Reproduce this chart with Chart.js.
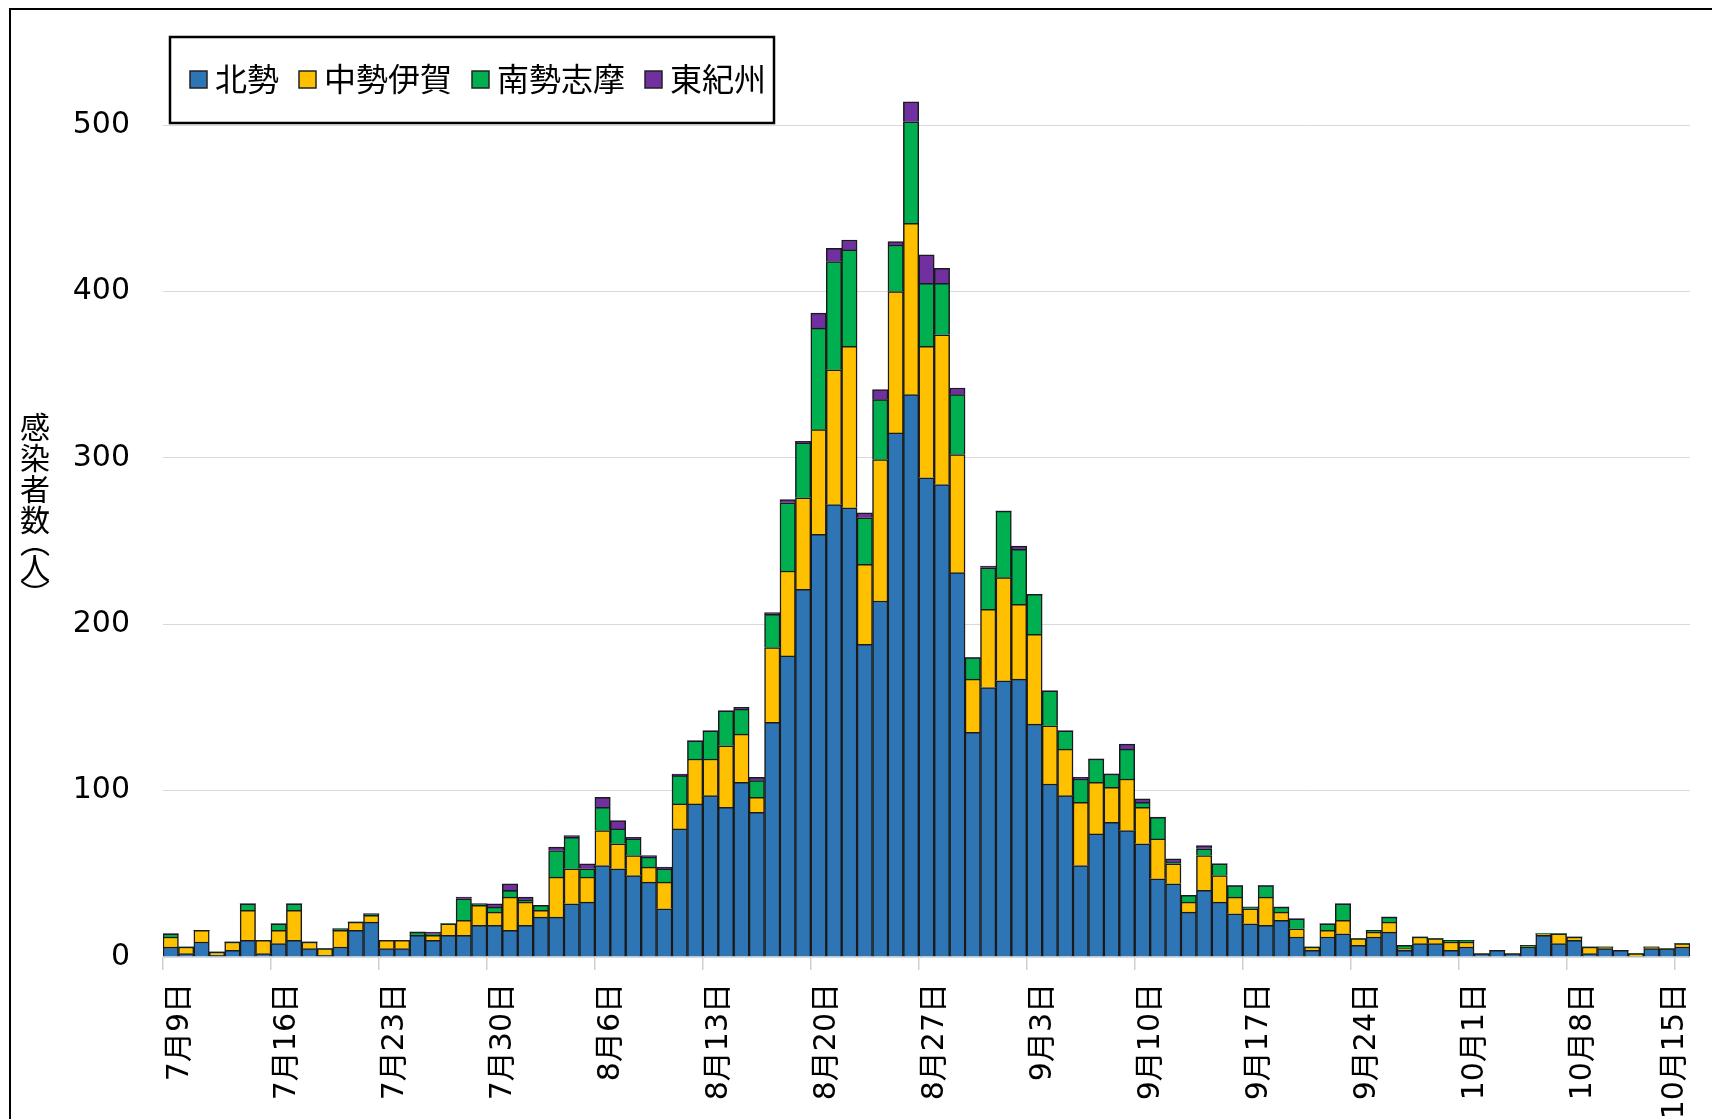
<!DOCTYPE html>
<html>
<head>
<meta charset="utf-8">
<script src="https://cdn.jsdelivr.net/npm/chart.js@4.4.0/dist/chart.umd.min.js"></script>
<style>
  html, body { margin: 0; padding: 0; background: #fff; }
</style>
</head>
<body>
<canvas id="myChart" width="1712" height="1119"></canvas>
<script>
// daily cases from 7/9 to 10/15
const startMonth = 7, startDay = 9, dayCount = 99;
const tickLabels = ['7月9日', '7月16日', '7月23日', '7月30日', '8月6日', '8月13日', '8月20日', '8月27日',
  '9月3日', '9月10日', '9月17日', '9月24日', '10月1日', '10月8日', '10月15日'];

const hokusei = [6, 2, 9, 1, 4, 10, 2, 8, 10, 5, 1, 6, 16, 21, 5, 5, 13, 10, 13, 13,
  19, 19, 16, 19, 24, 24, 32, 33, 55, 53, 49, 45, 29, 77, 92, 97, 90, 105, 87, 141,
  181, 221, 254, 272, 270, 188, 214, 315, 338, 288, 284, 231, 135, 162, 166, 167, 140, 104, 97, 55,
  74, 81, 76, 68, 47, 44, 27, 40, 33, 26, 20, 19, 22, 12, 4, 12, 14, 7, 12, 15,
  4, 8, 8, 4, 6, 2, 4, 2, 6, 13, 8, 10, 2, 5, 4, 0, 5, 5, 6];
const chuseiIga = [6, 4, 7, 2, 5, 18, 8, 8, 18, 4, 4, 10, 5, 4, 5, 5, 0, 3, 7, 9,
  12, 8, 20, 14, 4, 24, 21, 15, 21, 15, 12, 9, 16, 15, 27, 22, 37, 29, 9, 45,
  51, 55, 63, 81, 97, 48, 85, 85, 103, 79, 90, 71, 32, 47, 62, 45, 54, 35, 28, 38,
  31, 21, 31, 22, 24, 12, 6, 21, 16, 10, 9, 17, 5, 5, 2, 4, 8, 4, 3, 6,
  1, 4, 3, 5, 3, 0, 0, 0, 0, 1, 6, 2, 4, 1, 0, 2, 1, 0, 2];
const nanseiShima = [2, 0, 0, 0, 0, 4, 0, 4, 4, 0, 0, 1, 0, 1, 0, 0, 2, 1, 0, 13,
  1, 3, 4, 1, 3, 16, 19, 5, 14, 9, 10, 6, 8, 17, 11, 17, 21, 15, 10, 20,
  41, 33, 61, 65, 58, 28, 36, 28, 61, 38, 31, 36, 13, 25, 40, 33, 24, 21, 11, 14,
  14, 8, 18, 3, 13, 1, 4, 4, 7, 7, 1, 7, 3, 6, 0, 4, 10, 0, 1, 3,
  2, 0, 0, 1, 1, 0, 0, 0, 1, 0, 0, 0, 0, 0, 0, 0, 0, 0, 0];
const higashiKishu = [0, 0, 0, 0, 0, 0, 0, 0, 0, 0, 0, 0, 0, 0, 0, 0, 0, 1, 0, 1,
  0, 2, 4, 2, 0, 2, 1, 3, 6, 5, 1, 1, 1, 1, 0, 0, 0, 1, 2, 1,
  2, 1, 9, 8, 6, 3, 6, 2, 12, 17, 9, 4, 0, 1, 0, 2, 0, 0, 0, 1,
  0, 0, 3, 2, 0, 2, 0, 2, 0, 0, 0, 0, 0, 0, 0, 0, 0, 0, 0, 0,
  0, 0, 0, 0, 0, 0, 0, 0, 0, 0, 0, 0, 0, 0, 0, 0, 0, 0, 0];

const days = [];
for (let i = 0; i < dayCount; i++) {
  const d = new Date(2021, startMonth - 1, startDay + i);
  days.push((d.getMonth() + 1) + '月' + d.getDate() + '日');
}

const jpFont = '"Noto Sans CJK JP"';
const numFont = '"DejaVu Sans", "Noto Sans CJK JP"';

function series(label, data, color) {
  return {
    label: label,
    data: data,
    backgroundColor: color,
    borderColor: '#1a1a1a',
    borderWidth: c => (c.raw ? 1.5 : 0),
    barPercentage: 1,
    categoryPercentage: 1
  };
}

// frame, legend box and vertical axis title
const decor = {
  id: 'decor',
  beforeDraw(chart) {
    // last date label is pulled back inside the plot, like the original
    const items = chart.scales.x.getLabelItems();
    const last = items.find(it => it.label === tickLabels[tickLabels.length - 1]);
    if (last && !last.moved) {
      last.options.translation[0] -= 16;
      last.moved = true;
    }
  },
  afterDraw(chart) {
    const ctx = chart.ctx;
    ctx.save();
    ctx.strokeStyle = '#000';
    ctx.lineWidth = 2;
    ctx.beginPath();
    ctx.moveTo(10, 1119);
    ctx.lineTo(10, 9);
    ctx.lineTo(1712, 9);
    ctx.stroke();

    // legend
    ctx.fillStyle = '#fff';
    ctx.fillRect(170, 37, 604, 86);
    ctx.lineWidth = 2.5;
    ctx.strokeRect(170, 37, 604, 86);
    ctx.font = '32px ' + jpFont;
    ctx.textBaseline = 'middle';
    ctx.textAlign = 'left';
    let x = 190;
    const cy = 79;
    chart.data.datasets.forEach(ds => {
      ctx.fillStyle = ds.backgroundColor;
      ctx.fillRect(x, cy - 8, 17, 17);
      ctx.lineWidth = 1.5;
      ctx.strokeStyle = '#222';
      ctx.strokeRect(x, cy - 8, 17, 17);
      ctx.fillStyle = '#000';
      ctx.fillText(ds.label, x + 25, cy);
      x += 25 + ctx.measureText(ds.label).width + 20;
    });

    // y axis title, stacked vertically
    ctx.font = '30px ' + jpFont;
    ctx.textAlign = 'center';
    const chars = ['感', '染', '者', '数', '︵', '人', '︶'];
    const ys = [427, 458, 489, 520, 542, 568, 594];
    chars.forEach((ch, i) => ctx.fillText(ch, 35, ys[i]));
    ctx.restore();
  }
};

const ctx = document.getElementById('myChart').getContext('2d');
const myChart = new Chart(ctx, {
  type: 'bar',
  data: {
    labels: days,
    datasets: [
      series('北勢', hokusei, '#2E75B6'),
      series('中勢伊賀', chuseiIga, '#FFC000'),
      series('南勢志摩', nanseiShima, '#00B050'),
      series('東紀州', higashiKishu, '#7030A0')
    ]
  },
  options: {
    responsive: false,
    animation: false,
    devicePixelRatio: 1,
    layout: { padding: { top: 42, right: 22, left: 0, bottom: 0 } },
    plugins: {
      legend: { display: false },
      tooltip: { enabled: false }
    },
    scales: {
      x: {
        stacked: true,
        afterFit: s => { s.height = 162; s.paddingLeft = 0; s.paddingRight = 0; },
        border: { display: false },
        grid: {
          offset: true,
          drawOnChartArea: false,
          tickLength: 13,
          lineWidth: 1.5,
          color: c => (tickLabels.includes(days[c.index]) ? '#d0d0d0' : 'rgba(0,0,0,0)')
        },
        ticks: {
          autoSkip: false,
          minRotation: 90,
          maxRotation: 90,
          padding: 13,
          labelOffset: 9,
          color: '#000',
          font: { family: numFont, size: 30 },
          callback: function (v) {
            const l = this.getLabelForValue(v);
            return tickLabels.includes(l) ? l : '';
          }
        }
      },
      y: {
        stacked: true,
        min: 0,
        max: 550,
        afterFit: s => { s.width = 163; s.paddingTop = 0; s.paddingBottom = 0; },
        afterBuildTicks: s => { s.ticks = s.ticks.filter(t => t.value % 100 === 0); },
        border: { display: false },
        grid: { color: '#d9d9d9', lineWidth: 1, drawTicks: false },
        ticks: {
          stepSize: 100,
          padding: 33,
          color: '#000',
          font: { family: numFont, size: 30 }
        }
      }
    }
  },
  plugins: [decor]
});
</script>
</body>
</html>
